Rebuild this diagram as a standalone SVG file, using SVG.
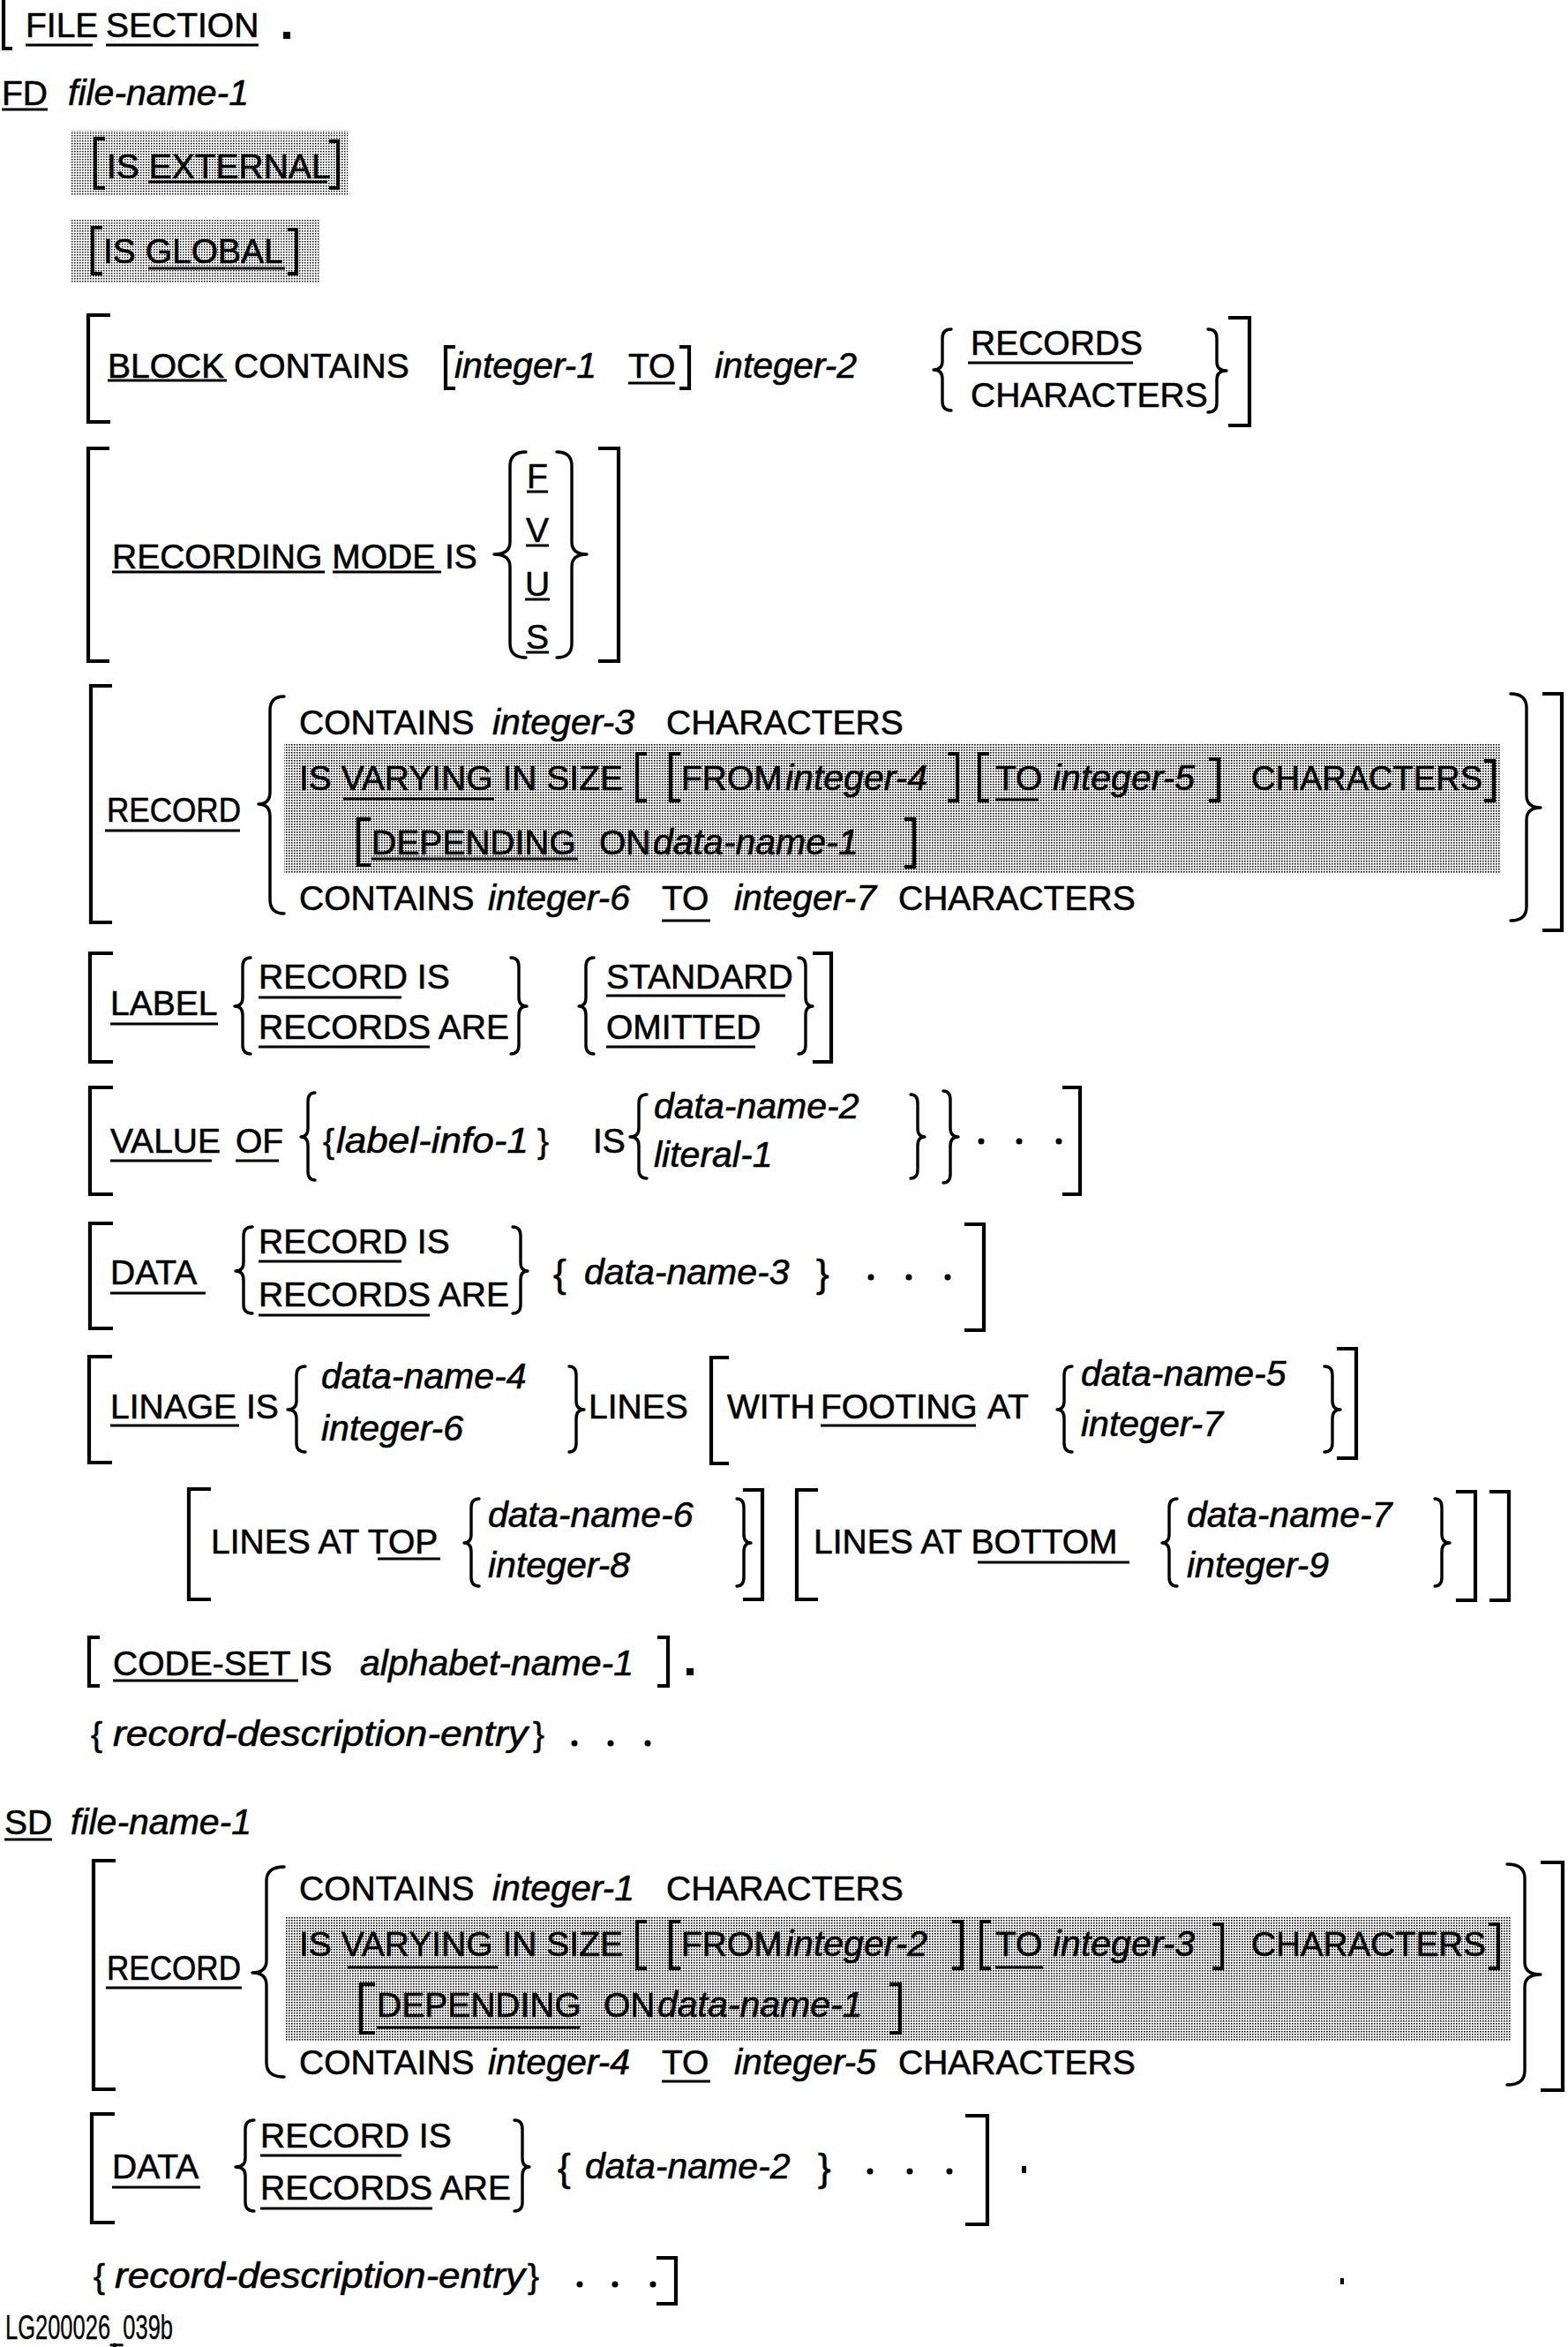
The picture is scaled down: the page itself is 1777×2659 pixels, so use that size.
<svg xmlns="http://www.w3.org/2000/svg" width="1777" height="2659" viewBox="0 0 1777 2659">
<defs>
<pattern id="sh1" width="3" height="3" patternUnits="userSpaceOnUse"><rect width="3" height="3" fill="#fff"/><rect width="1.5" height="1.5" fill="#111"/></pattern>
<pattern id="sh2" width="3" height="3" patternUnits="userSpaceOnUse"><rect width="3" height="3" fill="#fff"/><rect width="1.6" height="1.6" fill="#111"/></pattern>
</defs>
<style>
text{font-family:"Liberation Sans",Arial,Helvetica,sans-serif;font-size:39px;fill:#000;stroke:#000;stroke-width:0.6}
.i{font-style:italic;font-size:41px}
.g{font-size:44px}
.ul{fill:none;stroke:#000;stroke-width:3.2}
.br{fill:none;stroke:#000;stroke-width:4.2;stroke-linejoin:miter}
.bc{fill:none;stroke:#000;stroke-width:3.4;stroke-linecap:round;stroke-linejoin:round}
.dot{fill:#000}
</style>
<rect width="1777" height="2659" fill="#fff"/>

<g id="file-section">
<path class="br" d="M14,55 L4,55 L4,0"/>
<text x="29" y="42" font-size="38">FILE</text>
<text x="120" y="42" font-size="38">SECTION</text>
<path class="ul" d="M29,51 H105 M120,51 H293"/>
<rect class="dot" x="321" y="36" width="8" height="8"/>
</g>

<g id="fd">
<text x="2" y="119">FD</text>
<text class="i" x="77" y="119">file-name-1</text>
<path class="ul" d="M2,124 H54"/>
</g>

<g id="is-external">
<rect x="81" y="148" width="313" height="74" fill="url(#sh1)"/>
<path class="br" d="M119,157 L108,157 L108,213 L119,213 M373,160 L383,160 L383,213 L373,213"/>
<text x="121" y="202">IS EXTERNAL</text>
<path class="ul" d="M168,206 H371"/>
</g>

<g id="is-global">
<rect x="81" y="248" width="281" height="72" fill="url(#sh1)"/>
<path class="br" d="M116,258 L105,258 L105,310 L116,310 M326,260 L336,260 L336,310 L326,310"/>
<text x="117" y="298">IS GLOBAL</text>
<path class="ul" d="M168,304 H323"/>
</g>

<g id="block">
<path class="br" d="M125,357 L100,357 L100,478 L125,478 M516,393 L505,393 L505,440 L516,440 M770,393 L781,393 L781,440 L770,440 M1392,360 L1416,360 L1416,482 L1392,482"/>
<text x="122" y="428">BLOCK CONTAINS</text>
<text class="i" x="515" y="428">integer-1</text>
<text x="712" y="428">TO</text>
<text class="i" x="810" y="428">integer-2</text>
<path class="bc" d="M1078,373 Q1068,373 1068,383 L1068,409 Q1068,419 1058,419 Q1068,419 1068,429 L1068,455 Q1068,465 1078,465"/>
<text x="1100" y="402">RECORDS</text>
<text x="1100" y="461">CHARACTERS</text>
<path class="bc" d="M1369,373 Q1379,373 1379,383 L1379,410 Q1379,420 1390,420 Q1379,420 1379,430 L1379,457 Q1379,467 1369,467"/>
<path class="ul" d="M122,431 H257 M712,434 H765 M1097,411 H1284"/>
</g>

<g id="recording-mode">
<path class="br" d="M124,508 L100,508 L100,749 L124,749 M678,508 L701,508 L701,749 L678,749"/>
<text x="127" y="644">RECORDING MODE IS</text>
<path class="bc" d="M596,512 Q578,512 578,528 L578,614 Q578,628 560,628 Q578,628 578,642 L578,729 Q578,745 596,745"/>
<text x="609" y="553" text-anchor="middle">F</text>
<text x="609" y="614" text-anchor="middle">V</text>
<text x="609" y="675" text-anchor="middle">U</text>
<text x="609" y="735" text-anchor="middle">S</text>
<path class="bc" d="M631,512 Q648,512 648,528 L648,614 Q648,628 665,628 Q648,628 648,642 L648,729 Q648,745 631,745"/>
<path class="ul" d="M127,648 H368 M377,648 H500 M597,557 H621 M596,618 H622 M595,679 H623 M596,739 H622"/>
</g>

<g id="fd-record">
<rect x="322" y="843" width="1378" height="146" fill="url(#sh2)"/>
<path class="br" d="M127,777 L103,777 L103,1045 L127,1045 M1748,786 L1770,786 L1770,1054 L1748,1054"/>
<text x="121" y="931" textLength="152" lengthAdjust="spacingAndGlyphs">RECORD</text>
<path class="bc" d="M322,789 Q306,789 306,805 L306,897 Q306,911 293,911 Q306,911 306,925 L306,1019 Q306,1035 322,1035"/>
<text x="339" y="832">CONTAINS</text>
<text class="i" x="558" y="832">integer-3</text>
<text x="755" y="832">CHARACTERS</text>
<text x="339" y="895">IS VARYING IN SIZE</text>
<path class="br" d="M733,854 L722,854 L722,907 L733,907 M771,854 L760,854 L760,907 L771,907 M1074,854 L1085,854 L1085,907 L1074,907 M1121,854 L1110,854 L1110,907 L1121,907 M1370,860 L1381,860 L1381,907 L1370,907 M1682,862 L1693,862 L1693,907 L1682,907"/>
<text x="772" y="895">FROM</text>
<text class="i" x="890" y="895">integer-4</text>
<text x="1128" y="895">TO</text>
<text class="i" x="1193" y="895">integer-5</text>
<text x="1418" y="895" textLength="262" lengthAdjust="spacingAndGlyphs">CHARACTERS</text>
<path class="br" d="M420,928 L406,928 L406,980 L420,980 M1025,928 L1036,928 L1036,982 L1025,982"/>
<text x="421" y="968">DEPENDING</text>
<text x="679" y="968">ON</text>
<text class="i" x="740" y="968">data-name-1</text>
<text x="339" y="1031">CONTAINS</text>
<text class="i" x="553" y="1031">integer-6</text>
<text x="750" y="1031">TO</text>
<text class="i" x="832" y="1031">integer-7</text>
<text x="1018" y="1031">CHARACTERS</text>
<path class="bc" d="M1712,786 Q1730,786 1730,802 L1730,901 Q1730,915 1746,915 Q1730,915 1730,929 L1730,1027 Q1730,1043 1712,1043"/>
<path class="ul" d="M119,941 H272 M389,905 H560 M1128,906 H1177 M421,973 H655 M750,1043 H805"/>
</g>

<g id="label">
<path class="br" d="M128,1080 L102,1080 L102,1203 L128,1203 M921,1080 L942,1080 L942,1203 L921,1203"/>
<text x="125" y="1150">LABEL</text>
<path class="bc" d="M284,1085 Q275,1085 275,1095 L275,1130 Q275,1140 266,1140 Q275,1140 275,1150 L275,1184 Q275,1194 284,1194"/>
<text x="293" y="1120">RECORD IS</text>
<text x="293" y="1177">RECORDS ARE</text>
<path class="bc" d="M579,1085 Q588,1085 588,1095 L588,1130 Q588,1140 597,1140 Q588,1140 588,1150 L588,1184 Q588,1194 579,1194"/>
<path class="bc" d="M673,1085 Q664,1085 664,1095 L664,1130 Q664,1140 656,1140 Q664,1140 664,1150 L664,1184 Q664,1194 673,1194"/>
<text x="687" y="1120">STANDARD</text>
<text x="687" y="1177">OMITTED</text>
<path class="bc" d="M905,1085 Q913,1085 913,1095 L913,1130 Q913,1140 921,1140 Q913,1140 913,1150 L913,1184 Q913,1194 905,1194"/>
<path class="ul" d="M125,1160 H247 M293,1130 H455 M293,1186 H487 M687,1128 H890 M687,1186 H856"/>
</g>

<g id="value-of">
<path class="br" d="M128,1232 L102,1232 L102,1353 L128,1353 M1204,1232 L1224,1232 L1224,1353 L1204,1353"/>
<text x="125" y="1306">VALUE</text>
<text x="267" y="1306">OF</text>
<path class="bc" d="M357,1238 Q349,1238 349,1248 L349,1278 Q349,1288 341,1288 Q349,1288 349,1298 L349,1327 Q349,1337 357,1337"/>
<text x="366" y="1306">{</text>
<text class="i" x="381" y="1306" textLength="218" lengthAdjust="spacingAndGlyphs">label-info-1</text>
<text x="609" y="1306">}</text>
<text x="672" y="1306">IS</text>
<path class="bc" d="M733,1240 Q724,1240 724,1250 L724,1278 Q724,1288 714,1288 Q724,1288 724,1298 L724,1325 Q724,1335 733,1335"/>
<text class="i" x="741" y="1267">data-name-2</text>
<text class="i" x="741" y="1322">literal-1</text>
<path class="bc" d="M1032,1240 Q1040,1240 1040,1250 L1040,1278 Q1040,1288 1048,1288 Q1040,1288 1040,1298 L1040,1325 Q1040,1335 1032,1335"/>
<path class="bc" d="M1069,1236 Q1077,1236 1077,1246 L1077,1278 Q1077,1288 1086,1288 Q1077,1288 1077,1298 L1077,1330 Q1077,1340 1069,1340"/>
<circle class="dot" cx="1112" cy="1293" r="3.5"/><circle class="dot" cx="1155" cy="1293" r="3.5"/><circle class="dot" cx="1200" cy="1293" r="3.5"/>
<path class="ul" d="M125,1315 H240 M267,1315 H316"/>
</g>

<g id="fd-data">
<path class="br" d="M128,1386 L102,1386 L102,1505 L128,1505 M1093,1387 L1115,1387 L1115,1507 L1093,1507"/>
<text x="125" y="1455">DATA</text>
<path class="bc" d="M286,1390 Q276,1390 276,1400 L276,1430 Q276,1440 267,1440 Q276,1440 276,1450 L276,1478 Q276,1488 286,1488"/>
<text x="293" y="1420">RECORD IS</text>
<text x="293" y="1480">RECORDS ARE</text>
<path class="bc" d="M581,1390 Q590,1390 590,1400 L590,1430 Q590,1440 598,1440 Q590,1440 590,1450 L590,1478 Q590,1488 581,1488"/>
<text class="g" x="627" y="1458">{</text>
<text class="i" x="662" y="1455">data-name-3</text>
<text class="g" x="925" y="1458">}</text>
<circle class="dot" cx="987" cy="1447" r="3.5"/><circle class="dot" cx="1030" cy="1447" r="3.5"/><circle class="dot" cx="1074" cy="1447" r="3.5"/>
<path class="ul" d="M125,1465 H233 M293,1429 H455 M293,1490 H487"/>
</g>

<g id="linage">
<path class="br" d="M127,1537 L101,1537 L101,1657 L127,1657 M826,1538 L806,1538 L806,1658 L826,1658 M1515,1528 L1537,1528 L1537,1652 L1515,1652"/>
<text x="125" y="1607">LINAGE IS</text>
<path class="bc" d="M346,1548 Q336,1548 336,1558 L336,1587 Q336,1597 326,1597 Q336,1597 336,1607 L336,1635 Q336,1645 346,1645"/>
<text class="i" x="364" y="1573">data-name-4</text>
<text class="i" x="364" y="1632">integer-6</text>
<path class="bc" d="M645,1548 Q653,1548 653,1558 L653,1587 Q653,1597 662,1597 Q653,1597 653,1607 L653,1635 Q653,1645 645,1645"/>
<text x="667" y="1607">LINES</text>
<text x="824" y="1607">WITH</text>
<text x="930" y="1607">FOOTING</text>
<text x="1119" y="1607">AT</text>
<path class="bc" d="M1215,1548 Q1206,1548 1206,1558 L1206,1587 Q1206,1597 1198,1597 Q1206,1597 1206,1607 L1206,1635 Q1206,1645 1215,1645"/>
<text class="i" x="1225" y="1570">data-name-5</text>
<text class="i" x="1225" y="1627">integer-7</text>
<path class="bc" d="M1501,1548 Q1510,1548 1510,1558 L1510,1587 Q1510,1597 1519,1597 Q1510,1597 1510,1607 L1510,1635 Q1510,1645 1501,1645"/>
<path class="ul" d="M125,1615 H271 M930,1615 H1106"/>
</g>

<g id="lines-at">
<path class="br" d="M239,1687 L214,1687 L214,1812 L239,1812 M842,1688 L864,1688 L864,1812 L842,1812 M927,1688 L903,1688 L903,1812 L927,1812 M1650,1690 L1672,1690 L1672,1813 L1650,1813 M1688,1690 L1710,1690 L1710,1813 L1688,1813"/>
<text x="239" y="1760">LINES AT TOP</text>
<path class="bc" d="M543,1698 Q534,1698 534,1708 L534,1738 Q534,1748 526,1748 Q534,1748 534,1758 L534,1787 Q534,1797 543,1797"/>
<text class="i" x="553" y="1730">data-name-6</text>
<text class="i" x="553" y="1787">integer-8</text>
<path class="bc" d="M835,1698 Q843,1698 843,1708 L843,1738 Q843,1748 851,1748 Q843,1748 843,1758 L843,1787 Q843,1797 835,1797"/>
<text x="922" y="1760">LINES AT BOTTOM</text>
<path class="bc" d="M1334,1698 Q1325,1698 1325,1708 L1325,1738 Q1325,1748 1317,1748 Q1325,1748 1325,1758 L1325,1787 Q1325,1797 1334,1797"/>
<text class="i" x="1345" y="1730">data-name-7</text>
<text class="i" x="1345" y="1787">integer-9</text>
<path class="bc" d="M1626,1698 Q1634,1698 1634,1708 L1634,1738 Q1634,1748 1643,1748 Q1634,1748 1634,1758 L1634,1787 Q1634,1797 1626,1797"/>
<path class="ul" d="M428,1766 H499 M1108,1770 H1280"/>
</g>

<g id="code-set">
<path class="br" d="M113,1855 L101,1855 L101,1910 L113,1910 M745,1855 L757,1855 L757,1910 L745,1910"/>
<text x="128" y="1898">CODE-SET IS</text>
<text class="i" x="408" y="1898">alphabet-name-1</text>
<rect class="dot" x="778" y="1890" width="8" height="8"/>
<path class="ul" d="M128,1904 H338"/>
</g>

<g id="fd-record-entry">
<text x="103" y="1978">{</text>
<text class="i" x="128" y="1978" textLength="470" lengthAdjust="spacingAndGlyphs">record-description-entry</text>
<text x="604" y="1978">}</text>
<circle class="dot" cx="651" cy="1975" r="3.5"/><circle class="dot" cx="692" cy="1975" r="3.5"/><circle class="dot" cx="734" cy="1975" r="3.5"/>
</g>

<g id="sd">
<text x="5" y="2078">SD</text>
<text class="i" x="80" y="2078">file-name-1</text>
<path class="ul" d="M5,2084 H59"/>
</g>

<g id="sd-record">
<rect x="323" y="2172" width="1390" height="140" fill="url(#sh2)"/>
<path class="br" d="M131,2108 L106,2108 L106,2367 L131,2367 M1746,2110 L1771,2110 L1771,2368 L1746,2368"/>
<text x="121" y="2243" textLength="152" lengthAdjust="spacingAndGlyphs">RECORD</text>
<path class="bc" d="M322,2115 Q302,2115 302,2131 L302,2221 Q302,2235 286,2235 Q302,2235 302,2249 L302,2337 Q302,2353 322,2353"/>
<text x="339" y="2153">CONTAINS</text>
<text class="i" x="558" y="2153">integer-1</text>
<text x="755" y="2153">CHARACTERS</text>
<text x="339" y="2216">IS VARYING IN SIZE</text>
<path class="br" d="M733,2177 L722,2177 L722,2230 L733,2230 M771,2177 L760,2177 L760,2230 L771,2230 M1079,2177 L1090,2177 L1090,2230 L1079,2230 M1123,2177 L1112,2177 L1112,2230 L1123,2230 M1374,2180 L1385,2180 L1385,2230 L1374,2230 M1687,2180 L1698,2180 L1698,2230 L1687,2230"/>
<text x="772" y="2216">FROM</text>
<text class="i" x="890" y="2216">integer-2</text>
<text x="1128" y="2216">TO</text>
<text class="i" x="1193" y="2216">integer-3</text>
<text x="1418" y="2216" textLength="266" lengthAdjust="spacingAndGlyphs">CHARACTERS</text>
<path class="br" d="M425,2248 L409,2248 L409,2303 L425,2303 M1008,2248 L1020,2248 L1020,2303 L1008,2303"/>
<text x="427" y="2285">DEPENDING</text>
<text x="684" y="2285">ON</text>
<text class="i" x="745" y="2285">data-name-1</text>
<text x="339" y="2350">CONTAINS</text>
<text class="i" x="553" y="2350">integer-4</text>
<text x="750" y="2350">TO</text>
<text class="i" x="832" y="2350">integer-5</text>
<text x="1018" y="2350">CHARACTERS</text>
<path class="bc" d="M1708,2112 Q1728,2112 1728,2128 L1728,2223 Q1728,2237 1746,2237 Q1728,2237 1728,2251 L1728,2346 Q1728,2362 1708,2362"/>
<path class="ul" d="M120,2252 H274 M394,2229 H564 M1128,2229 H1182 M427,2297 H657 M750,2358 H805"/>
</g>

<g id="sd-data">
<path class="br" d="M130,2395 L104,2395 L104,2518 L130,2518 M1094,2397 L1119,2397 L1119,2520 L1094,2520"/>
<text x="127" y="2468">DATA</text>
<path class="bc" d="M288,2402 Q278,2402 278,2412 L278,2445 Q278,2455 267,2455 Q278,2455 278,2465 L278,2495 Q278,2505 288,2505"/>
<text x="295" y="2433">RECORD IS</text>
<text x="295" y="2492">RECORDS ARE</text>
<path class="bc" d="M583,2402 Q592,2402 592,2412 L592,2445 Q592,2455 600,2455 Q592,2455 592,2465 L592,2495 Q592,2505 583,2505"/>
<text class="g" x="632" y="2471">{</text>
<text class="i" x="663" y="2468">data-name-2</text>
<text class="g" x="927" y="2471">}</text>
<circle class="dot" cx="986" cy="2460" r="3.5"/><circle class="dot" cx="1031" cy="2460" r="3.5"/><circle class="dot" cx="1076" cy="2460" r="3.5"/>
<rect class="dot" x="1158" y="2454" width="5" height="8"/>
<path class="ul" d="M127,2478 H227 M295,2442 H455 M295,2502 H490"/>
</g>

<g id="sd-record-entry">
<text x="106" y="2592">{</text>
<text class="i" x="130" y="2592" textLength="465" lengthAdjust="spacingAndGlyphs">record-description-entry</text>
<text x="598" y="2592">}</text>
<circle class="dot" cx="657" cy="2588" r="3.5"/><circle class="dot" cx="697" cy="2588" r="3.5"/><circle class="dot" cx="740" cy="2588" r="3.5"/>
<path class="br" d="M744,2558 L766,2558 L766,2610 L744,2610"/>
<rect class="dot" x="1519" y="2581" width="4" height="7"/>
</g>

<g id="figure-id">
<text x="6" y="2650" font-size="24" textLength="190" lengthAdjust="spacingAndGlyphs" style="stroke-width:0.3">LG200026_039b</text>
<circle class="dot" cx="130" cy="2657" r="2.5"/>
</g>
</svg>
